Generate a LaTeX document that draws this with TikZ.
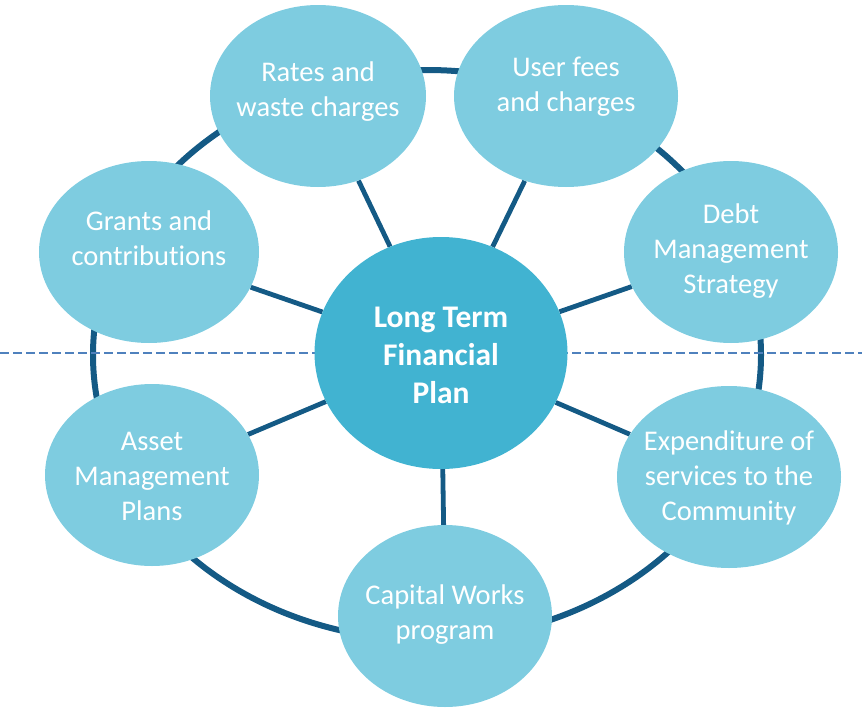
\documentclass[tikz,border=0pt]{standalone}
\usepackage{fontspec}
\setmainfont{Carlito}[Ligatures=CommonOff]
\usetikzlibrary{shapes.geometric,backgrounds,positioning}
\definecolor{ringblue}{HTML}{145A85}
\definecolor{sourcefill}{HTML}{7ECCE0}
\definecolor{planfill}{HTML}{41B3D1}
\definecolor{splitblue}{HTML}{4F81BD}
\tikzstyle{source} = [ellipse, fill=sourcefill, inner sep=0pt, minimum height=182pt]
\tikzstyle{sourcetext} = [text=white, align=center, inner sep=0pt, font=\fontsize{28.5}{35}\selectfont]
\tikzstyle{plan} = [ellipse, fill=planfill, inner sep=0pt, minimum width=253pt, minimum height=232pt]
\tikzstyle{plantext} = [text=white, align=center, inner sep=0pt, font=\bfseries\fontsize{31.5}{38}\selectfont]
\tikzstyle{link} = [draw=ringblue, line width=4.8pt]

\begin{document}
\begin{tikzpicture}[x=1pt, y=-1pt]

	\useasboundingbox (0,0) rectangle (862,712);

	% centre
	\node[plan] (plan) at (441,353) {};
	\node[plantext] (plan-t) at ([yshift=-2pt]plan) {Long Term\\Financial\\Plan};

	% sources round the ring
	\node[source, minimum width=216pt] (rates) at (318,96) {};
	\node[sourcetext] (rates-t) at ([yshift=4pt]rates) {Rates and\\waste charges};
	\node[source, minimum width=224pt] (fees) at (566,96) {};
	\node[sourcetext] (fees-t) at ([yshift=9pt]fees) {User fees\\and charges};
	\node[source, minimum width=214pt] (debt) at (731,252) {};
	\node[sourcetext] (debt-t) at ([yshift=1pt]debt) {Debt\\Management\\Strategy};
	\node[source, minimum width=224pt] (expend) at (729,477) {};
	\node[sourcetext] (expend-t) at ([yshift=-1pt]expend) {Expenditure of\\services to the\\Community};
	\node[source, minimum width=214pt] (capital) at (445,616) {};
	\node[sourcetext] (capital-t) at ([yshift=1pt]capital) {Capital Works\\program};
	\node[source, minimum width=214pt] (asset) at (152,475) {};
	\node[sourcetext] (asset-t) at ([yshift=-1pt]asset) {Asset\\Management\\Plans};
	\node[source, minimum width=220pt] (grants) at (149,252) {};
	\node[sourcetext] (grants-t) at ([yshift=14pt]grants) {Grants and\\contributions};

	\begin{pgfonlayer}{background}
		\draw[ringblue, line width=6pt] (427,355) ellipse (334 and 285);
		\coordinate (split-l) at (0,353);
		\coordinate (split-r) at (862,353);
		\draw[splitblue, line width=1.2pt, dash pattern=on 9pt off 4pt] (split-l) -- (split-r);
		\foreach \src in {rates,fees,debt,expend,capital,asset,grants}
			\draw[link] (plan) -- (\src);
	\end{pgfonlayer}

\end{tikzpicture}
\end{document}
